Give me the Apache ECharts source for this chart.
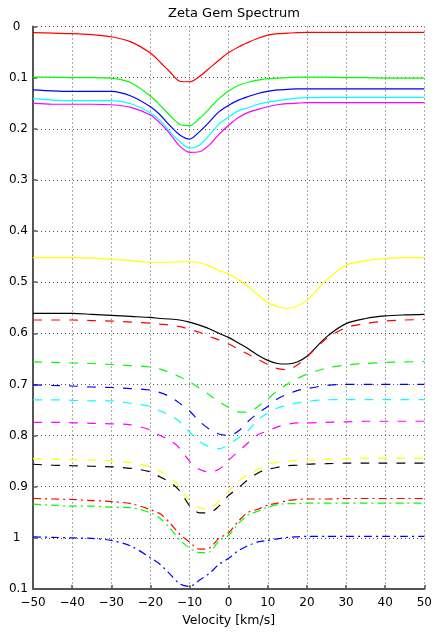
<!DOCTYPE html>
<html>
<head>
<meta charset="utf-8">
<script src="https://cdn.jsdelivr.net/npm/echarts@6/dist/echarts.min.js"></script>
<style>
  html, body { margin: 0; padding: 0; background: #fff; }
  #chart { width: 435px; height: 635px; }
</style>
</head>
<body>
<div id="chart"></div>
<script>
// Velocity grid (km/s) shared by every profile
const velocity = [-50, -45, -40, -35, -30, -25, -20, -17.5, -15, -12.5, -10, -7.5, -5, -2.5,
                  0, 2.5, 5, 7.5, 10, 12.5, 15, 17.5, 20, 25, 30, 35, 40, 45, 50];

// Solid profiles
const redSolid     = [0.012, 0.013, 0.014, 0.016, 0.020, 0.030, 0.052, 0.070, 0.089, 0.107, 0.108, 0.098, 0.082, 0.066,
                      0.051, 0.040, 0.031, 0.023, 0.017, 0.014, 0.013, 0.012, 0.0115, 0.0115, 0.0115, 0.0115, 0.0115, 0.0115, 0.0115];
const greenSolid   = [0.099, 0.099, 0.100, 0.100, 0.101, 0.110, 0.136, 0.154, 0.174, 0.191, 0.194, 0.180, 0.161, 0.141,
                      0.126, 0.115, 0.109, 0.105, 0.102, 0.101, 0.100, 0.099, 0.099, 0.099, 0.100, 0.100, 0.101, 0.101, 0.101];
const blueSolid    = [0.124, 0.126, 0.127, 0.127, 0.127, 0.136, 0.157, 0.173, 0.194, 0.212, 0.220, 0.206, 0.187, 0.167,
                      0.154, 0.144, 0.137, 0.131, 0.127, 0.124, 0.123, 0.122, 0.122, 0.122, 0.122, 0.122, 0.122, 0.122, 0.122];
const cyanSolid    = [0.141, 0.144, 0.145, 0.145, 0.145, 0.151, 0.169, 0.184, 0.206, 0.225, 0.238, 0.232, 0.213, 0.191,
                      0.177, 0.165, 0.159, 0.152, 0.148, 0.145, 0.142, 0.140, 0.139, 0.1386, 0.1386, 0.1386, 0.1386, 0.1386, 0.1386];
const magentaSolid = [0.150, 0.152, 0.152, 0.152, 0.153, 0.158, 0.173, 0.189, 0.210, 0.234, 0.246, 0.245, 0.232, 0.211,
                      0.193, 0.178, 0.168, 0.162, 0.157, 0.153, 0.151, 0.150, 0.149, 0.149, 0.149, 0.149, 0.149, 0.149, 0.149];
const yellowSolid  = [0.452, 0.452, 0.452, 0.453, 0.455, 0.458, 0.461, 0.461, 0.461, 0.460, 0.460, 0.462, 0.468, 0.477,
                      0.484, 0.495, 0.509, 0.525, 0.540, 0.548, 0.551, 0.547, 0.535, 0.496, 0.467, 0.458, 0.454, 0.452, 0.452];
const blackSolid   = [0.561, 0.561, 0.561, 0.563, 0.565, 0.567, 0.569, 0.571, 0.572, 0.574, 0.578, 0.584, 0.591, 0.600,
                      0.608, 0.619, 0.630, 0.643, 0.653, 0.659, 0.660, 0.656, 0.645, 0.607, 0.581, 0.571, 0.566, 0.564, 0.563];

// Dashed profiles
const redDashed     = [0.574, 0.574, 0.574, 0.575, 0.576, 0.578, 0.580, 0.582, 0.584, 0.587, 0.592, 0.598, 0.606, 0.613,
                       0.621, 0.631, 0.641, 0.651, 0.661, 0.669, 0.671, 0.662, 0.646, 0.610, 0.589, 0.581, 0.576, 0.574, 0.573];
const greenDashed   = [0.656, 0.657, 0.658, 0.659, 0.661, 0.663, 0.666, 0.670, 0.677, 0.685, 0.695, 0.707, 0.720, 0.734,
                       0.745, 0.754, 0.754, 0.743, 0.728, 0.712, 0.699, 0.688, 0.680, 0.668, 0.662, 0.659, 0.657, 0.656, 0.655];
const blueDashed    = [0.701, 0.702, 0.703, 0.705, 0.706, 0.708, 0.711, 0.716, 0.724, 0.737, 0.752, 0.772, 0.787, 0.797,
                       0.800, 0.791, 0.772, 0.756, 0.743, 0.728, 0.719, 0.712, 0.708, 0.702, 0.700, 0.700, 0.700, 0.700, 0.700];
const cyanDashed    = [0.730, 0.730, 0.731, 0.732, 0.732, 0.737, 0.743, 0.752, 0.760, 0.773, 0.793, 0.811, 0.822, 0.826,
                       0.818, 0.804, 0.790, 0.769, 0.756, 0.746, 0.741, 0.736, 0.733, 0.730, 0.7296, 0.7296, 0.7296, 0.7296, 0.7296];
const magentaDashed = [0.774, 0.774, 0.775, 0.776, 0.777, 0.779, 0.789, 0.800, 0.809, 0.825, 0.850, 0.866, 0.871, 0.866,
                       0.848, 0.831, 0.814, 0.798, 0.791, 0.783, 0.778, 0.775, 0.775, 0.774, 0.773, 0.772, 0.772, 0.772, 0.772];
const yellowDashed  = [0.845, 0.846, 0.847, 0.848, 0.849, 0.853, 0.861, 0.870, 0.881, 0.901, 0.928, 0.941, 0.943, 0.928,
                       0.908, 0.889, 0.876, 0.866, 0.856, 0.852, 0.850, 0.848, 0.848, 0.846, 0.845, 0.844, 0.844, 0.844, 0.844];
const blackDashed   = [0.856, 0.858, 0.859, 0.860, 0.861, 0.864, 0.871, 0.881, 0.891, 0.908, 0.937, 0.951, 0.951, 0.938,
                       0.917, 0.902, 0.886, 0.873, 0.866, 0.862, 0.859, 0.858, 0.856, 0.855, 0.854, 0.854, 0.854, 0.854, 0.854];

// Dash-dot profiles
const redDashDot   = [0.923, 0.924, 0.925, 0.927, 0.929, 0.933, 0.945, 0.953, 0.971, 0.993, 1.008, 1.022, 1.020, 1.001,
                      0.990, 0.967, 0.950, 0.944, 0.936, 0.932, 0.927, 0.925, 0.924, 0.924, 0.923, 0.923, 0.923, 0.923, 0.923];
const greenDashDot = [0.934, 0.936, 0.938, 0.938, 0.940, 0.941, 0.951, 0.962, 0.981, 1.004, 1.020, 1.029, 1.028, 1.006,
                      0.995, 0.972, 0.955, 0.948, 0.940, 0.935, 0.933, 0.933, 0.932, 0.932, 0.932, 0.932, 0.932, 0.932, 0.932];
const blueDashDot  = [0.998, 0.999, 1.000, 1.001, 1.005, 1.016, 1.039, 1.052, 1.071, 1.090, 1.095, 1.083, 1.070, 1.052,
                      1.040, 1.025, 1.015, 1.008, 1.005, 1.002, 0.999, 0.998, 0.997, 0.997, 0.997, 0.997, 0.997, 0.997, 0.997];

// Axis tick labels (left axis uses padded text labels)
const xTickLabels = ['\u221250', '\u221240', '\u221230', '\u221220', '\u221210', '0', '10', '20', '30', '40', '50'];
const yTickLabels = ['0  ', '0.1', '0.2', '0.3', '0.4', '0.5', '0.6', '0.7', '0.8', '0.9', '1  ', '0.1'];

const SOLID = 'solid';
const DASH = [9, 9];
const DASHDOT = [8, 4, 2, 4];

const profiles = [
  { name: 'red solid',      values: redSolid,      color: '#ff0000', dash: SOLID },
  { name: 'green solid',    values: greenSolid,    color: '#00ff00', dash: SOLID },
  { name: 'blue solid',     values: blueSolid,     color: '#0000ff', dash: SOLID },
  { name: 'cyan solid',     values: cyanSolid,     color: '#00ffff', dash: SOLID },
  { name: 'magenta solid',  values: magentaSolid,  color: '#ff00ff', dash: SOLID },
  { name: 'yellow solid',   values: yellowSolid,   color: '#ffff00', dash: SOLID },
  { name: 'black solid',    values: blackSolid,    color: '#000000', dash: SOLID },
  { name: 'red dashed',     values: redDashed,     color: '#ff0000', dash: DASH },
  { name: 'green dashed',   values: greenDashed,   color: '#00ff00', dash: DASH },
  { name: 'blue dashed',    values: blueDashed,    color: '#0000ff', dash: DASH },
  { name: 'cyan dashed',    values: cyanDashed,    color: '#00ffff', dash: DASH },
  { name: 'magenta dashed', values: magentaDashed, color: '#ff00ff', dash: DASH },
  { name: 'yellow dashed',  values: yellowDashed,  color: '#ffff00', dash: DASH },
  { name: 'black dashed',   values: blackDashed,   color: '#000000', dash: DASH },
  { name: 'red dashdot',    values: redDashDot,    color: '#ff0000', dash: DASHDOT },
  { name: 'green dashdot',  values: greenDashDot,  color: '#00ff00', dash: DASHDOT },
  { name: 'blue dashdot',   values: blueDashDot,   color: '#0000ff', dash: DASHDOT }
];

const FONT = 'DejaVu Sans';
const gridDots = { show: true, lineStyle: { color: '#555', width: 1, type: [1, 3] } };

const chart = echarts.init(document.getElementById('chart'), null, { renderer: 'canvas' });
chart.setOption({
  animation: false,
  backgroundColor: '#ffffff',
  title: {
    text: 'Zeta Gem Spectrum',
    left: 229,
    top: 2,
    textAlign: 'center',
    textStyle: { fontFamily: FONT, fontSize: 13, fontWeight: 'normal', color: '#000' }
  },
  grid: { left: 33, right: 10, top: 26.5, bottom: 46 },
  xAxis: {
    type: 'value',
    min: -50, max: 50, interval: 10,
    name: 'Velocity [km/s]',
    nameLocation: 'middle',
    nameGap: 22,
    nameTextStyle: { fontFamily: FONT, fontSize: 12.5, color: '#000' },
    axisLine: { show: true, onZero: false, lineStyle: { color: '#555', width: 2 } },
    axisTick: { show: true, inside: true, length: 4, lineStyle: { color: '#555', width: 1.5 } },
    axisLabel: {
      margin: 8,
      fontFamily: FONT, fontSize: 12, color: '#000',
      formatter: (v, i) => xTickLabels[i]
    },
    splitLine: gridDots
  },
  yAxis: {
    type: 'value',
    inverse: true,
    min: 0, max: 1.1, interval: 0.1,
    axisLine: { show: true, onZero: false, lineStyle: { color: '#555', width: 2 } },
    axisTick: { show: true, inside: true, length: 4, lineStyle: { color: '#555', width: 1.5 } },
    axisLabel: {
      margin: 5,
      fontFamily: FONT, fontSize: 12, color: '#000',
      formatter: (v, i) => yTickLabels[i]
    },
    splitLine: gridDots
  },
  series: profiles.map(p => ({
    name: p.name,
    type: 'line',
    data: velocity.map((v, i) => [v, p.values[i]]),
    showSymbol: false,
    smooth: 0.3,
    lineStyle: { color: p.color, width: 1.2, type: p.dash },
    emphasis: { disabled: true }
  }))
});
</script>
</body>
</html>
